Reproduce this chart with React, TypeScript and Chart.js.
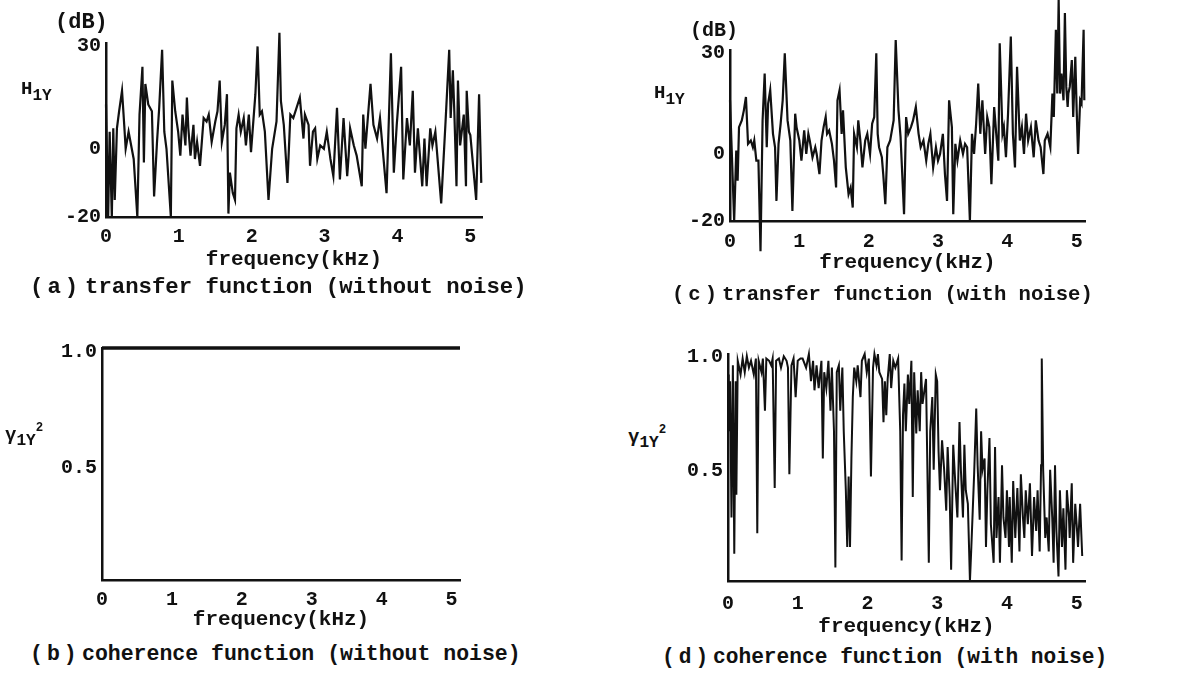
import { useEffect, useRef } from "react";
import { Chart, registerables } from "chart.js";

Chart.register(...registerables);

const FONT = "'Liberation Mono', 'DejaVu Sans Mono', monospace";
const INK = "#111";

// tick labels
const freqTicks = [0, 1, 2, 3, 4, 5];
const dbTicks = [-20, 0, 30];
const cohTicks = [0.5, 1.0];

// (a) transfer function without noise, dB
const freqA = [
  0.0, 0.03, 0.05, 0.08, 0.1, 0.12, 0.15, 0.18, 0.22, 0.25,
  0.27, 0.31, 0.38, 0.43, 0.46, 0.5, 0.52, 0.54, 0.58, 0.63,
  0.66, 0.7, 0.73, 0.77, 0.8, 0.83, 0.89, 0.91, 0.95, 0.99,
  1.02, 1.05, 1.09, 1.11, 1.13, 1.16, 1.2, 1.22, 1.25, 1.29,
  1.34, 1.38, 1.41, 1.45, 1.5, 1.53, 1.56, 1.59, 1.63, 1.66,
  1.68, 1.7, 1.74, 1.77, 1.79, 1.82, 1.85, 1.89, 1.92, 1.96,
  1.99, 2.05, 2.08, 2.11, 2.14, 2.18, 2.23, 2.28, 2.34, 2.38,
  2.4, 2.44, 2.49, 2.53, 2.57, 2.66, 2.71, 2.73, 2.78, 2.8,
  2.84, 2.87, 2.9, 2.94, 2.99, 3.03, 3.08, 3.12, 3.17, 3.21,
  3.26, 3.31, 3.33, 3.35, 3.4, 3.44, 3.51, 3.53, 3.56, 3.63,
  3.67, 3.72, 3.76, 3.85, 3.91, 3.95, 3.99, 4.05, 4.08, 4.13,
  4.17, 4.21, 4.24, 4.28, 4.34, 4.37, 4.4, 4.45, 4.48, 4.52,
  4.6, 4.66, 4.71, 4.73, 4.76, 4.78, 4.81, 4.83, 4.86, 4.91,
  4.94, 4.95, 4.98, 5.0, 5.08, 5.12, 5.15,
];
const h1yA = [
  13, -20, 5, -20, 6, -15, 6, 11, 17, 7,
  0, 5, -3, -20, 10, 24, -4, 19, 13, 11,
  -14, 2, 12, 29, 5, 0, -20, 20, 11, 5,
  -2, 10, 1, 15, 6, -2, 7, -3, 2, -5,
  9, 8, 10, 2, 8, 11, 20, 2, 7, 16,
  -19, -7, -13, -15, 6, 10, 5, 9, 1, 10,
  -1, 16, 30, 10, 11, 5, -15, 0, 8, 34,
  14, 7, -10, 10, 9, 15, 3, 10, 7, -5,
  5, 6, -3, 1, 0, 5, -3, -8, 12, -9,
  9, -8, -2, 6, 1, -2, -11, 10, 0, 19,
  7, 3, 9, -13, 28, -7, 7, 24, -9, 9,
  1, 17, -7, 6, -11, 3, -11, 6, 1, 5,
  -16, 8, 29, 9, 23, 11, -11, 20, 1, 10,
  -11, 17, 5, 4, -15, 16, -10,
];

// (b) coherence without noise
const freqB = [0, 1, 2, 3, 4, 5, 5.12];
const cohB = [1, 1, 1, 1, 1, 1, 1];

// (c) transfer function with noise, dB
const freqC = [
  0.0, 0.02, 0.06, 0.09, 0.11, 0.13, 0.17, 0.2, 0.23, 0.26,
  0.3, 0.33, 0.35, 0.38, 0.41, 0.44, 0.47, 0.5, 0.53, 0.55,
  0.58, 0.62, 0.65, 0.67, 0.7, 0.73, 0.76, 0.79, 0.83, 0.87,
  0.9, 0.94, 0.96, 1.0, 1.03, 1.07, 1.1, 1.13, 1.15, 1.19,
  1.23, 1.25, 1.29, 1.32, 1.35, 1.38, 1.4, 1.43, 1.47, 1.5,
  1.53, 1.55, 1.58, 1.61, 1.63, 1.67, 1.71, 1.74, 1.77, 1.79,
  1.83, 1.85, 1.88, 1.91, 1.95, 1.98, 2.02, 2.05, 2.08, 2.11,
  2.13, 2.15, 2.19, 2.21, 2.24, 2.27, 2.31, 2.36, 2.39, 2.43,
  2.46, 2.51, 2.54, 2.57, 2.61, 2.64, 2.68, 2.72, 2.75, 2.79,
  2.83, 2.86, 2.89, 2.93, 2.97, 3.0, 3.03, 3.07, 3.1, 3.13,
  3.16, 3.2, 3.22, 3.25, 3.28, 3.32, 3.36, 3.39, 3.42, 3.46,
  3.49, 3.52, 3.55, 3.58, 3.61, 3.64, 3.68, 3.71, 3.74, 3.77,
  3.81, 3.84, 3.87, 3.89, 3.93, 3.95, 3.98, 4.01, 4.05, 4.08,
  4.11, 4.14, 4.18, 4.21, 4.24, 4.27, 4.3, 4.34, 4.38, 4.41,
  4.45, 4.48, 4.52, 4.54, 4.58, 4.62, 4.65, 4.67, 4.7, 4.72,
  4.74, 4.76, 4.78, 4.81, 4.83, 4.85, 4.87, 4.88, 4.9, 4.93,
  4.95, 4.98, 5.0, 5.02, 5.05, 5.07, 5.1, 5.11,
];
const h1yC = [
  16, 4, -20, 1, -8, 8, 10, 13, 17, 3,
  4, 2, 4, -2, -2, -29, 10, 24, 2, 15,
  19, 6, 2, -14, 3, 9, 16, 30, 10, 4,
  -17, 12, 8, 4, -2, 7, 0, 6, 4, -1,
  2, 0, -6, 4, 8, 11, 6, 7, 3, -2,
  -10, 16, 19, 6, 13, -4, -12, -10, -16, 6,
  2, 10, 4, -4, 4, 6, 0, 9, 11, 30,
  6, 2, -1, -6, -15, 2, 4, 10, 34, 13,
  5, -18, 11, 6, 8, 10, 14, 6, 2, 4,
  -2, 3, 6, -4, 2, -2, 0, 6, -6, -14,
  16, 8, -18, 3, -2, 4, 0, 3, 2, -20,
  6, 0, 9, 21, 6, 16, 0, 11, 8, -9,
  14, 6, -2, 33, 6, 8, -1, 12, 35, 6,
  -4, 26, 4, 8, 0, 12, 4, 8, -1, 10,
  4, 2, -6, 4, 6, 2, 18, 11, 37, 18,
  46, 18, 24, 16, 42, 20, 14, 18, 20, 28,
  11, 29, 13, 0, 16, 15, 37, 16,
];

// (d) coherence with noise
const freqD = [
  0.0, 0.01, 0.03, 0.05, 0.07, 0.09, 0.11, 0.12, 0.14, 0.18,
  0.21, 0.24, 0.27, 0.3, 0.33, 0.37, 0.4, 0.42, 0.44, 0.48,
  0.5, 0.53, 0.55, 0.59, 0.62, 0.64, 0.67, 0.69, 0.73, 0.76,
  0.8, 0.84, 0.86, 0.88, 0.91, 0.94, 0.97, 1.0, 1.04, 1.07,
  1.12, 1.16, 1.19, 1.22, 1.24, 1.27, 1.3, 1.34, 1.36, 1.38,
  1.41, 1.44, 1.47, 1.49, 1.52, 1.54, 1.56, 1.59, 1.61, 1.64,
  1.66, 1.69, 1.71, 1.73, 1.75, 1.77, 1.79, 1.81, 1.84, 1.86,
  1.9, 1.92, 1.96, 1.99, 2.02, 2.05, 2.08, 2.1, 2.13, 2.15,
  2.17, 2.21, 2.23, 2.25, 2.27, 2.29, 2.32, 2.34, 2.37, 2.4,
  2.44, 2.47, 2.49, 2.51, 2.53, 2.55, 2.58, 2.6, 2.63, 2.65,
  2.67, 2.7, 2.72, 2.75, 2.77, 2.79, 2.84, 2.88, 2.9, 2.93,
  2.95, 2.98, 3.0, 3.02, 3.04, 3.07, 3.1, 3.13, 3.15, 3.18,
  3.2, 3.23, 3.26, 3.29, 3.32, 3.34, 3.37, 3.39, 3.41, 3.44,
  3.47, 3.49, 3.51, 3.53, 3.56, 3.58, 3.61, 3.63, 3.65, 3.68,
  3.7, 3.72, 3.75, 3.77, 3.81, 3.83, 3.85, 3.88, 3.9, 3.93,
  3.95, 3.98, 4.0, 4.03, 4.04, 4.07, 4.09, 4.12, 4.15, 4.18,
  4.2, 4.23, 4.25, 4.27, 4.3, 4.33, 4.36, 4.39, 4.42, 4.44,
  4.47, 4.49, 4.5, 4.52, 4.55, 4.57, 4.6, 4.62, 4.65, 4.67,
  4.69, 4.71, 4.74, 4.76, 4.79, 4.81, 4.84, 4.86, 4.89, 4.9,
  4.93, 4.95, 4.98, 5.0, 5.02, 5.05, 5.08,
];
const cohD = [
  0.91, 0.66, 0.88, 0.28, 0.95, 0.12, 0.88, 0.38, 0.97, 0.91,
  0.98, 0.92, 0.99, 0.94, 0.97, 0.91, 0.98, 0.21, 0.97, 0.92,
  0.98, 0.75, 0.98, 0.97, 0.95, 0.98, 0.41, 0.97, 0.98, 0.94,
  0.99, 0.97, 0.94, 0.47, 0.95, 0.98, 0.81, 0.97, 0.98, 0.98,
  0.94, 1.0, 0.88, 0.97, 0.84, 0.95, 0.85, 0.97, 0.54, 0.92,
  0.85, 0.97, 0.75, 0.94, 0.66, 0.06, 0.92, 0.95, 0.75, 0.94,
  0.66, 0.4, 0.15, 0.46, 0.15, 0.54, 0.81, 0.94, 0.88, 0.95,
  0.81, 0.97, 1.0, 0.92, 0.98, 0.46, 0.94, 1.0, 0.95, 1.0,
  0.92, 0.89, 0.7, 0.88, 0.73, 0.89, 1.0, 0.85, 0.97, 0.94,
  0.98, 0.66, 0.09, 0.73, 0.87, 0.66, 0.91, 0.78, 0.97, 0.37,
  0.92, 0.65, 0.84, 0.66, 0.92, 0.78, 0.89, 0.08, 0.66, 0.81,
  0.49, 0.91, 0.88, 0.57, 0.4, 0.62, 0.49, 0.31, 0.59, 0.37,
  0.05, 0.6, 0.43, 0.28, 0.7, 0.49, 0.28, 0.6, 0.4, 0.34,
  0.0, 0.15, 0.31, 0.47, 0.76, 0.51, 0.27, 0.66, 0.49, 0.54,
  0.15, 0.4, 0.63, 0.25, 0.08, 0.59, 0.19, 0.37, 0.08, 0.51,
  0.28, 0.19, 0.4, 0.15, 0.37, 0.08, 0.44, 0.19, 0.41, 0.13,
  0.47, 0.28, 0.19, 0.4, 0.25, 0.43, 0.11, 0.37, 0.22, 0.4,
  0.13, 0.51, 0.98, 0.49, 0.19, 0.28, 0.13, 0.49, 0.28, 0.08,
  0.51, 0.22, 0.02, 0.4, 0.15, 0.32, 0.05, 0.4, 0.28, 0.19,
  0.43, 0.08, 0.34, 0.25, 0.15, 0.34, 0.11,
];

type PanelProps = {
  box: { left: number; top: number; width: number; height: number };
  yAxisWidth: number;
  xAxisHeight: number;
  pad: { top: number; right: number; bottom: number };
  xMax: number;
  yMin: number;
  yMax: number;
  yTicks: number[];
  yFormat: (v: number) => string;
  yLabelOffset: number;
  freq: number[];
  values: number[];
  lineWidth: number;
  xTickPad: number;
};

function Panel(props: PanelProps) {
  const canvasRef = useRef<HTMLCanvasElement | null>(null);

  useEffect(() => {
    if (!canvasRef.current) return;
    const tickFont = { family: FONT, size: 20, weight: "bold" as const };
    const chart = new Chart(canvasRef.current, {
      type: "line",
      data: {
        datasets: [
          {
            data: props.freq.map((f, i) => ({ x: f, y: props.values[i] })),
            borderColor: INK,
            borderWidth: props.lineWidth,
            pointRadius: 0,
            tension: 0,
            fill: false,
            clip: false,
          },
        ],
      },
      options: {
        animation: false,
        responsive: false,
        maintainAspectRatio: false,
        layout: { padding: { left: 0, ...props.pad } },
        plugins: {
          legend: { display: false },
          tooltip: { enabled: false },
        },
        scales: {
          x: {
            type: "linear",
            min: 0,
            max: props.xMax,
            grid: { display: false, drawTicks: false },
            border: { display: true, color: INK, width: 2.5 },
            ticks: {
              color: INK,
              font: tickFont,
              padding: props.xTickPad,
              maxRotation: 0,
              autoSkip: false,
            },
            afterBuildTicks: (s: any) => {
              s.ticks = freqTicks.map((v) => ({ value: v }));
            },
            afterFit: (s: any) => {
              s.height = props.xAxisHeight;
            },
            title: {
              display: true,
              text: "frequency(kHz)",
              color: INK,
              font: { family: FONT, size: 21, weight: "bold" },
              padding: 0,
            },
          },
          y: {
            type: "linear",
            min: props.yMin,
            max: props.yMax,
            grid: { display: false, drawTicks: false },
            border: { display: true, color: INK, width: 2.5 },
            ticks: {
              color: INK,
              font: tickFont,
              padding: 5,
              autoSkip: false,
              labelOffset: props.yLabelOffset,
              callback: (v: any) => props.yFormat(Number(v)),
            },
            afterBuildTicks: (s: any) => {
              s.ticks = props.yTicks.map((v) => ({ value: v }));
            },
            afterFit: (s: any) => {
              s.width = props.yAxisWidth;
            },
          },
        },
      },
    });
    return () => chart.destroy();
  }, []);

  const { left, top, width, height } = props.box;
  return (
    <canvas
      ref={canvasRef}
      width={width}
      height={height}
      style={{ position: "absolute", left, top, width, height }}
    />
  );
}

const textBase = {
  position: "absolute" as const,
  fontFamily: FONT,
  fontWeight: "bold" as const,
  color: INK,
  lineHeight: 1,
  whiteSpace: "nowrap" as const,
};

function Label({ left, top, size, children }: any) {
  return <div style={{ ...textBase, left, top, fontSize: size }}>{children}</div>;
}

function Caption({ left, top, size, tagWidth, tag, text }: any) {
  return (
    <div style={{ ...textBase, left, top, fontSize: size }}>
      <span style={{ display: "inline-block", width: tagWidth, letterSpacing: 4 }}>
        {`(${tag})`}
      </span>
      {text}
    </div>
  );
}

const sub = { fontSize: "0.85em", verticalAlign: "-0.35em" };
const sup = { fontSize: "0.65em", verticalAlign: "0.7em" };

const dbFmt = (v: number) => String(v);
const cohFmt = (v: number) => v.toFixed(1);

export default function App() {
  return (
    <div
      style={{
        position: "fixed",
        left: 0,
        top: 0,
        width: 1185,
        height: 675,
        background: "#fff",
        overflow: "hidden",
      }}
    >
      <Panel
        box={{ left: 40, top: 0, width: 460, height: 280 }}
        yAxisWidth={66}
        xAxisHeight={55}
        pad={{ top: 43, right: 18, bottom: 8 }}
        xMax={5.16}
        yMin={-20}
        yMax={31}
        yTicks={dbTicks}
        yFormat={dbFmt}
        yLabelOffset={0}
        freq={freqA}
        values={h1yA}
        lineWidth={2.2}
        xTickPad={8}
      />
      <Panel
        box={{ left: 680, top: 0, width: 500, height: 290 }}
        yAxisWidth={50}
        xAxisHeight={54}
        pad={{ top: 50, right: 95, bottom: 15 }}
        xMax={5.12}
        yMin={-20}
        yMax={31}
        yTicks={dbTicks}
        yFormat={dbFmt}
        yLabelOffset={0}
        freq={freqC}
        values={h1yC}
        lineWidth={2.2}
        xTickPad={9}
      />
      <Panel
        box={{ left: 40, top: 320, width: 450, height: 320 }}
        yAxisWidth={62}
        xAxisHeight={52}
        pad={{ top: 28, right: 30, bottom: 8 }}
        xMax={5.12}
        yMin={0}
        yMax={1}
        yTicks={cohTicks}
        yFormat={cohFmt}
        yLabelOffset={4}
        freq={freqB}
        values={cohB}
        lineWidth={3.5}
        xTickPad={8}
      />
      <Panel
        box={{ left: 680, top: 320, width: 500, height: 320 }}
        yAxisWidth={48}
        xAxisHeight={58}
        pad={{ top: 34, right: 95, bottom: 1 }}
        xMax={5.12}
        yMin={0}
        yMax={1}
        yTicks={cohTicks}
        yFormat={cohFmt}
        yLabelOffset={3}
        freq={freqD}
        values={cohD}
        lineWidth={2}
        xTickPad={11}
      />

      <Label left={55} top={12} size={22}>(dB)</Label>
      <Label left={690} top={21} size={20}>(dB)</Label>
      <Label left={21} top={80} size={19}>
        H<span style={sub}>1Y</span>
      </Label>
      <Label left={654} top={84} size={19}>
        H<span style={sub}>1Y</span>
      </Label>
      <Label left={5} top={422} size={19}>
        γ<span style={sub}>1Y</span>
        <span style={sup}>2</span>
      </Label>
      <Label left={628} top={424} size={19}>
        γ<span style={sub}>1Y</span>
        <span style={sup}>2</span>
      </Label>

      <Caption left={30} top={276} size={22.3} tagWidth={55} tag="a" text="transfer function (without noise)" />
      <Caption left={30} top={644} size={21.5} tagWidth={52} tag="b" text="coherence function (without noise)" />
      <Caption left={672} top={285} size={20.6} tagWidth={50} tag="c" text="transfer function (with noise)" />
      <Caption left={662} top={647} size={21.2} tagWidth={51} tag="d" text="coherence function (with noise)" />
    </div>
  );
}
